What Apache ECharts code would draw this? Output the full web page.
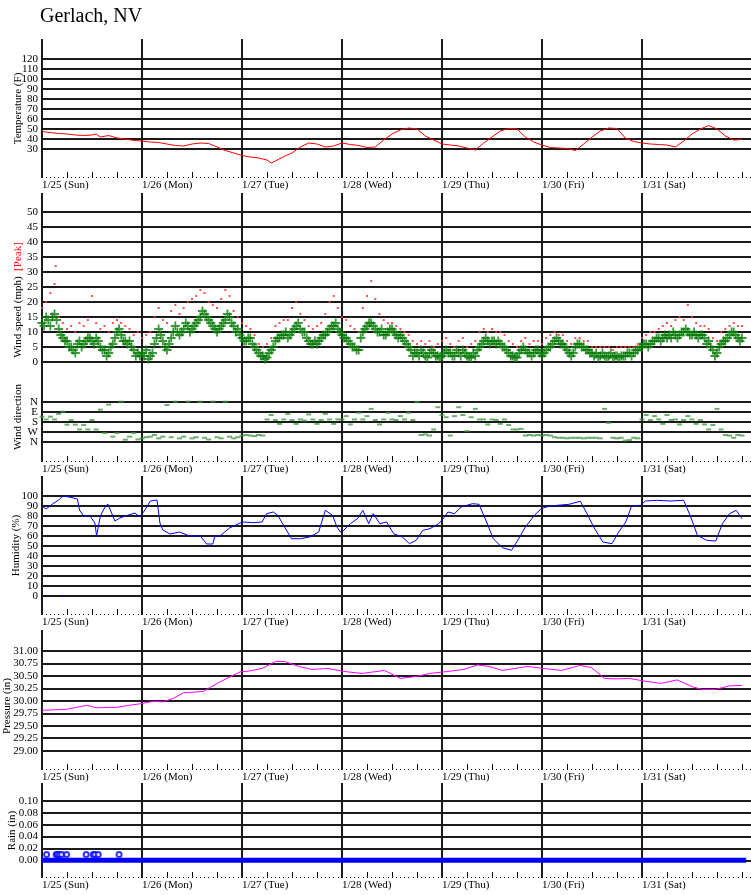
<!DOCTYPE html>
<html><head><meta charset="utf-8">
<script src="https://cdn.jsdelivr.net/npm/echarts@6/dist/echarts.min.js"></script>
<style>html,body{margin:0;padding:0;background:#fff}#c{width:751px;height:895px}</style>
</head><body><div id="c"></div><script>
// ---- tick labels ----
const dayLabels = ['1/25 (Sun)','1/26 (Mon)','1/27 (Tue)','1/28 (Wed)','1/29 (Thu)','1/30 (Fri)','1/31 (Sat)'];
const dayStarts = [0,24,48,72,96,120,144];
const tempTicks = [30,40,50,60,70,80,90,100,110,120];
const windTicks = [0,5,10,15,20,25,30,35,40,45,50];
const dirTicks = [0,90,180,270,360];
const dirLabels = ['N','E','S','W','N'];
const humTicks = [0,10,20,30,40,50,60,70,80,90,100];
const pressTicks = [29.00,29.25,29.50,29.75,30.00,30.25,30.50,30.75,31.00];
const rainTicks = [0.00,0.02,0.04,0.06,0.08,0.10];

// ---- data (time in hours from 1/25 00:00) ----
const tempT = [0,2,4,6,8,10,12,13,14,16,18,20,22,
 24,26,28,30,32,34,36,38,40,42,44,46,
 48,50,52,54,55,56,58,60,62,64,66,68,70,
 72,74,76,78,80,82,84,86,88,90,92,94,
 96,98,100,102,104,106,108,110,112,114,116,118,
 120,122,124,126,128,130,132,134,136,138,140,142,
 144,146,148,150,152,154,156,158,160,162,164,166,168];
const tempV = [47.5,46.5,45.5,45,44,43.5,44,45,42,43.5,41,40,38.5,
 38,37,36.5,35,33.5,33,35,36,35.5,32,28.5,26,
 23.5,22,21,19,16,18,22.5,26,32,36,35,32,33,
 36,34.5,33.5,31.5,32,39,45,49,51,50,43,39,
 35,34,33,31,29,36,42,48,50.5,50,42,37,
 34,31.5,31,30.5,28.5,35,42,48,51,50.5,41,37.5,
 36,35,34.5,34,32,38,45,50,53.5,50,43,39,39.5];

// wind speed (mph) read on the hour, hour 0..168
const windSpeed = [
 13,15,12,16,11,8,7,5,3,7,6,8,7,8,5,4,3,6,10,9,7,7,4,3,
 3,4,2,6,11,7,4,8,12,9,11,12,11,13,15,16,14,12,10,12,14,15,12,11,
 8,7,8,5,3,2,1.5,4,7,8,9,8,10,12,11,10,7,6,6,8,9,11,12,11,
 9,8,6,5,4,10,12,13,11,10,9,10,11,9,9,7,5,2,3,4,2,3,3,2,
 2,4,3,2,3,4,2,1.5,2,5,7,7,7,6,6,5,3,2,1.5,4,4,3,3,4,
 2,4,5,7,7,6,4,2,5,6,5,4,3,3,2,2,2,1.5,2,2,2,3,3,4,
 5,6,6,7,8,8,8,8,9,9,10,10,9,9,9,8,7,4,3,6,7,9,10,8,8];
// wind speed (mph) read on the half hour, hour 0.5..167.5
const windSpeedHalf = [
 12,14,15,14,9,7,5,4,6,5,7,8,6,7,4,2,5,8,11,7,6,5,2,2,
 2,1,3,8,9,5,6,10,10,10,13,10,12,14,17,15,13,11,11,13,16,13,10,9,
 7,8,6,4,2,1,3,5,8,9,10,9,11,13,10,8,6,7,7,9,10,12,13,10,
 8,7,5,4,8,11,13,12,10,11,9,11,10,8,8,6,4,3,2,3,1.5,4,2,1.5,
 3,3,2,4,2,3,1.5,3,4,6,8,6,7,7,5,4,2,1.5,3,5,3,2,4,3,
 3,5,6,8,6,5,3,3,6,5,4,3,2,1.5,3,1.5,3,2,1.5,2,3,2,4,5,
 6,5,7,8,7,9,9,10,8,10,11,9,10,8,9,6,5,2,5,7,8,10,9,7];
// hourly peak gust (mph), hour 0..168, plus one extra reading
const windPeak = [
 18,20,23,26,15,13,11,12,10,13,12,14,22,13,11,12,10,13,14,13,12,11,9,10,
 8,9,10,15,18,14,13,17,19,16,18,20,21,22,24,23,20,19,18,21,24,22,17,15,
 13,12,11,9,6,5,6,8,12,13,14,14,18,20,16,14,12,11,12,13,16,20,22,18,
 15,14,12,11,10,18,22,27,21,16,14,13,13,12,11,10,9,7,6,7,6,7,5,6,
 7,8,6,5,7,8,5,6,7,10,11,10,11,10,10,9,7,6,5,7,8,6,7,7,
 6,8,9,10,9,9,7,6,8,8,7,7,5,5,5,5,5,4,5,5,5,5,5,6,
 8,9,10,10,11,12,13,12,14,15,14,19,15,13,12,12,11,8,7,10,11,12,13,12,12];
const peakExtraT = [3.3];
const peakExtraV = [32];
// hourly wind direction (degrees), hour 0..168
const windDir = [
 135,160,135,160,110,90,207,165,207,250,210,250,165,250,72,282,27,315,282,0,342,315,282,340,
 330,320,315,300,330,315,30,320,0,330,315,0,330,320,0,325,340,0,320,330,0,315,330,320,
 305,300,305,310,300,305,160,120,165,200,160,110,165,200,160,170,115,160,200,165,110,160,200,160,
 160,130,205,160,100,160,130,65,165,205,160,100,160,165,130,160,100,165,5,300,295,305,250,50,
 120,140,305,130,50,120,265,140,65,160,160,205,160,165,200,160,210,250,250,245,305,300,305,300,
 305,300,305,320,325,325,330,325,325,325,330,325,325,325,330,65,190,325,330,325,350,345,325,330,
 160,120,165,130,160,200,120,165,160,205,165,130,160,200,165,205,250,210,65,250,300,305,325,300,305];

const humT = [0,1,2.5,4,5,6.5,8.5,9,10,11.5,12.7,13.1,14,15,15.8,17,17.5,18.7,20,22.3,23.5,
 24.7,26,27.6,28.3,29,30.7,33,35.5,38,39.5,41,41.5,42.7,45,47.5,
 48.4,50.6,52.8,53.9,55.5,56.6,58.2,59.9,62,64.2,66.4,68,69.7,70.8,71.6,
 72.4,74,75.7,77,78.4,79.5,81.1,82.7,84.4,86.5,88.2,89.8,91.4,93.1,95.2,
 96.3,97.4,99,100.6,103.3,104.9,106.7,108.3,110.5,112.7,114.4,116,118.2,119.8,
 121,123.7,126.5,129.2,130.8,132.4,134.6,136.8,138.4,140.1,141.5,143.7,
 144.8,147.5,150.8,154,155.7,157.3,159.5,161.7,163.3,165,166.6,168];
const humV = [90,87,92,96,100,99,97,86,80,80,73,60,80,88,92,80,75,78,80,83,79,
 86,95,96,73,66,62,64,60,60,52,52,60,60,68,73,
 74,73.3,74,82.3,84,80.7,69,57.3,57.3,59,64,85.7,80.7,69,64,
 65.7,72.3,77.3,85.7,72.3,82.3,72.3,74,62.3,59,52.3,55.7,65.7,67.3,72.3,
 77.3,84,82.3,89,92.3,91.7,74,57.3,48.3,45.7,57.3,69,80.7,87.3,
 89,90.7,91.7,94.7,82.3,69,54,52.3,64,74,90,90.7,
 95,95.7,95,95.7,79,60.7,55.7,55,72.3,82.3,85.7,77.3];
const humOutT = [5.0];
const humOutV = [0];

const pressT = [0,5.9,8.3,10.7,13.1,16.3,18,20.8,23.5,26.7,29.1,31.5,33.9,38.7,42.7,47.5,
 49.9,52.8,56.1,58.3,61.6,64.8,68.6,72.4,76.8,82.2,86,89.9,93.1,97.4,101.3,104.5,107.3,110.5,116.5,
 120.3,124.7,129.1,131.8,135,137.8,141,144.3,148.6,152.4,156.2,158.4,161.7,165,168];
const pressV = [29.81,29.83,29.87,29.91,29.86,29.87,29.87,29.91,29.94,29.99,29.98,30.05,30.16,30.19,30.38,30.58,
 30.60,30.65,30.79,30.79,30.69,30.63,30.65,30.59,30.55,30.61,30.45,30.49,30.55,30.59,30.63,30.72,30.69,30.61,30.69,
 30.65,30.61,30.71,30.67,30.45,30.44,30.45,30.40,30.35,30.42,30.28,30.23,30.23,30.30,30.31];

const rainT = [1.1,3.4,3.7,4.2,4.7,5.9,10.6,12.3,12.7,13.5,18.5];
const rainV = [0.01,0.01,0.01,0.01,0.01,0.01,0.01,0.01,0.01,0.01,0.01];
const rainZeroT = [0,169];
const rainZeroV = [0,0];

// ---- chart ----
const FONT = '"Liberation Serif","DejaVu Serif",serif';
const LINE = '#1a1a1a';
const XMAX = 170.16;
const pairs = (t, v) => t.map((x, i) => [x, v[i]]);
const hourly = v => v.map((y, i) => [i, y]);
const halfHourly = v => v.map((y, i) => [i + 0.5, y]);

const gridDefs = [
  {top:39, height:139},   // temperature
  {top:193, height:192},  // wind speed
  {top:385, height:77},   // wind direction
  {top:476, height:139},  // humidity
  {top:630, height:140},  // pressure
  {top:783, height:95}    // rain
];
const grid = gridDefs.map(g => ({left:42, right:0, top:g.top, height:g.height,
  containLabel:false, outerBoundsMode:'none'}));

function xAxes(gi, showLabels, showTicks) {
  return [
    {type:'value', gridIndex:gi, position:'bottom', min:0, max:XMAX, interval:24,
     axisLine:{show:false}, axisTick:{show:false}, splitLine:{show:false},
     axisLabel:{show:showLabels, align:'left', margin:2, fontFamily:FONT, fontSize:11, color:'#000',
       formatter: v => (v % 24 === 0 && dayLabels[v/24]) || ''}},
    {type:'value', gridIndex:gi, position:'bottom', min:0, max:XMAX, interval:6, show:showTicks,
     axisLine:{show:false}, axisLabel:{show:false}, splitLine:{show:false},
     axisTick:{show:true, inside:true, length:6, lineStyle:{color:'#000', width:1}},
     minorTick:{show:true, splitNumber:6, length:1, lineStyle:{color:'#000', width:1}}}
  ];
}
const xAxis = [].concat(
  xAxes(0, true, true), xAxes(1, false, false), xAxes(2, true, true),
  xAxes(3, true, true), xAxes(4, true, true), xAxes(5, true, true));

function yAx(gi, min, max, name, nameGap, extra) {
  return Object.assign({type:'value', gridIndex:gi, min:min, max:max, name:name,
    nameLocation:'middle', nameGap:nameGap, nameRotate:90,
    nameTextStyle:{fontFamily:FONT, fontSize:11, color:'#000'},
    axisLine:{show:false}, axisTick:{show:false}, axisLabel:{show:false}, splitLine:{show:false}}, extra || {});
}
const yAxis = [
  yAx(0, 1, 140, 'Temperature (F)', 18),
  yAx(1, -7.667, 56.333, '{a|Wind speed (mph)}  {b|[Peak]}', 18,
      {nameTextStyle:{fontFamily:FONT, fontSize:11, color:'#000', padding:[0,22,0,0],
        rich:{a:{fontFamily:FONT, fontSize:11, color:'#000'}, b:{fontFamily:FONT, fontSize:11, color:'#ff0000'}}}}),
  yAx(2, -150, 543, 'Wind direction', 18,
      {inverse:true, nameTextStyle:{fontFamily:FONT, fontSize:11, color:'#000', padding:[0,0,0,13]}}),
  yAx(3, -19, 120, 'Humidity (%)', 20),
  yAx(4, 28.613, 31.421, 'Pressure (in)', 29,
      {nameTextStyle:{fontFamily:FONT, fontSize:11, color:'#000', padding:[0,12,0,0]}}),
  yAx(5, -0.0298, 0.1303, 'Rain (in)', 24)
];

function gridLines(gi, ticks, labels) {
  const h = ticks.map((t, i) => ({yAxis:t, name:labels[i]}));
  const v = dayStarts.map(d => ({xAxis:d, label:{show:false}}));
  return {type:'line', xAxisIndex:gi*2, yAxisIndex:gi, data:[], silent:true,
    markLine:{silent:true, z:1, symbol:['none','none'], animation:false,
      lineStyle:{color:LINE, width:2, type:'solid'},
      label:{show:true, position:'start', distance:4, formatter:'{b}', fontFamily:FONT, fontSize:11, color:'#000'},
      emphasis:{disabled:true},
      data: h.concat(v)}};
}
const plus = 'path://M3.2,0h1.6v3.2h3.2v1.6h-3.2v3.2h-1.6v-3.2h-3.2v-1.6h3.2z';

const series = [
  gridLines(0, tempTicks, tempTicks.map(String)),
  gridLines(1, windTicks, windTicks.map(String)),
  gridLines(2, dirTicks, dirLabels),
  gridLines(3, humTicks, humTicks.map(String)),
  gridLines(4, pressTicks, pressTicks.map(v => v.toFixed(2))),
  gridLines(5, rainTicks, rainTicks.map(v => v.toFixed(2))),
  {type:'line', xAxisIndex:0, yAxisIndex:0, data:pairs(tempT, tempV), showSymbol:false, z:3,
   lineStyle:{color:'#ff0000', width:1}},
  {type:'scatter', xAxisIndex:2, yAxisIndex:1, data:hourly(windPeak).concat(pairs(peakExtraT, peakExtraV)),
   symbol:'rect', symbolSize:[2,2], itemStyle:{color:'#ff3030', opacity:0.85}, z:3},
  {type:'scatter', xAxisIndex:2, yAxisIndex:1, data:hourly(windSpeed).concat(halfHourly(windSpeedHalf)),
   symbol:plus, symbolSize:9, itemStyle:{color:'#0a7d0a'}, z:4},
  {type:'scatter', xAxisIndex:4, yAxisIndex:2, data:hourly(windDir),
   symbol:'rect', symbolSize:[5,2], itemStyle:{color:'#3a963a', opacity:0.75}, z:3},
  {type:'line', xAxisIndex:6, yAxisIndex:3, data:pairs(humT, humV), showSymbol:false, z:3,
   lineStyle:{color:'#0000ff', width:1}},
  {type:'scatter', xAxisIndex:6, yAxisIndex:3, data:pairs(humOutT, humOutV),
   symbol:'rect', symbolSize:[2,2], itemStyle:{color:'#0000ff'}, z:3},
  {type:'line', xAxisIndex:8, yAxisIndex:4, data:pairs(pressT, pressV), showSymbol:false, z:3,
   lineStyle:{color:'#ff00ff', width:1}},
  {type:'line', xAxisIndex:10, yAxisIndex:5, data:pairs(rainZeroT, rainZeroV), showSymbol:false, z:3,
   lineStyle:{color:'#0000ff', width:5}},
  {type:'scatter', xAxisIndex:10, yAxisIndex:5, data:pairs(rainT, rainV),
   symbol:'emptyCircle', symbolSize:5, itemStyle:{color:'#0000ff', borderColor:'#0000ff', borderWidth:1}, z:3}
];

const chart = echarts.init(document.getElementById('c'), null, {renderer:'canvas'});
chart.setOption({
  animation:false,
  backgroundColor:'#fff',
  title:{text:'Gerlach, NV', left:40, top:7, padding:0,
    textStyle:{fontFamily:FONT, fontSize:20, fontWeight:'normal', color:'#000'}},
  grid:grid, xAxis:xAxis, yAxis:yAxis, series:series
});
</script></body></html>
